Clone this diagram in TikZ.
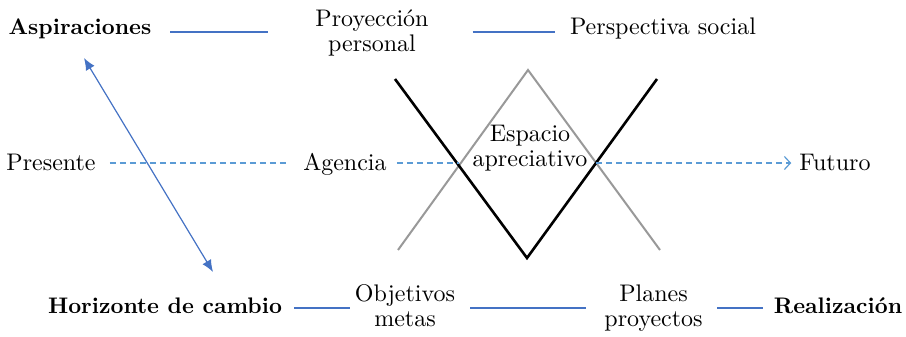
\documentclass[tikz,border=0pt]{standalone}
\usepackage{fontspec}
\IfFontExistsTF{lmroman10-regular.otf}{%
  \setmainfont{lmroman10-regular.otf}[BoldFont=lmroman10-bold.otf]}{}
\usetikzlibrary{arrows.meta}
\definecolor{azul}{HTML}{4472C4}
\definecolor{celeste}{HTML}{5B9BD5}
\tikzset{
  etiq/.style={inner sep=0pt, font=\fontsize{24}{25}\selectfont, align=center},
  titulo/.style={etiq, font=\fontsize{22.5}{25}\selectfont\bfseries},
  linea/.style={azul, line width=1.8pt},
  guion/.style={celeste, line width=1.2pt, dash pattern=on 6pt off 4pt},
}
\begin{document}
\begin{tikzpicture}[x=1pt,y=-1pt]
\useasboundingbox (0,0) rectangle (906,337);
% fila superior
\node[titulo, anchor=base] (aspir) at (80,35) {Aspiraciones};
\node[etiq] (proy) at (372,33) {Proyección\\personal};
\node[etiq, anchor=base] (persp) at (663,35) {Perspectiva social};
% fila central
\node[etiq, anchor=base] (presente) at (51,170) {Presente};
\node[etiq, anchor=base] (agencia) at (345,170) {Agencia};
\node[etiq] (espacio) at (530,148.5) {Espacio\\apreciativo};
\node[etiq, anchor=base] (futuro) at (835,170) {Futuro};
% fila inferior
\node[titulo, anchor=base] (horiz) at (165,313) {Horizonte de cambio};
\node[etiq] (objet) at (405,306) {Objetivos\\metas};
\node[etiq] (planes) at (653.5,308) {Planes\\proyectos};
\node[titulo, anchor=base] (realiz) at (838,313) {Realización};
% las dos V
\draw[gray!80, line width=2pt] (398,250) -- (528,70) -- (660,250);
\draw[black, line width=2.6pt] (395,79) -- (527,258) -- (657,79);
\coordinate (cruceizq) at (459,163);
\coordinate (cruceder) at (596,163);
% conectores
\draw[linea, shorten <=18.5pt, shorten >=47pt] ([yshift=3pt]aspir.base east) -- ([yshift=3pt]aspir.base east -| proy.west);
\draw[linea, shorten <=44pt, shorten >=14.5pt] ([yshift=3pt]persp.base west -| proy.east) -- ([yshift=3pt]persp.base west);
\draw[guion, shorten <=14pt, shorten >=15pt] ([yshift=7pt]presente.base east) -- ([yshift=7pt]agencia.base west);
\draw[guion, shorten <=10pt] ([yshift=7pt]agencia.base east) -- (cruceizq);
\draw[guion, -{Straight Barb[length=6pt,width=13pt]}, shorten >=8pt] (cruceder) -- ([yshift=7pt]futuro.base west);
\draw[linea, shorten <=12pt, shorten >=5pt] ([yshift=5pt]horiz.base east) -- ([yshift=5pt]horiz.base east -| objet.west);
\draw[linea, shorten <=15pt, shorten >=18.5pt] ([yshift=5pt]horiz.base east -| objet.east) -- ([yshift=5pt]horiz.base east -| planes.west);
\draw[linea, shorten <=14.5pt, shorten >=11pt] ([yshift=5pt]realiz.base west -| planes.east) -- ([yshift=5pt]realiz.base west);
% flecha doble
\coordinate (flechasup) at (84,58);
\coordinate (flechainf) at (213,272);
\draw[azul, line width=1.2pt, {Latex[length=12pt,width=10pt]}-{Latex[length=12pt,width=10pt]}] (flechasup) -- (flechainf);
\end{tikzpicture}
\end{document}
